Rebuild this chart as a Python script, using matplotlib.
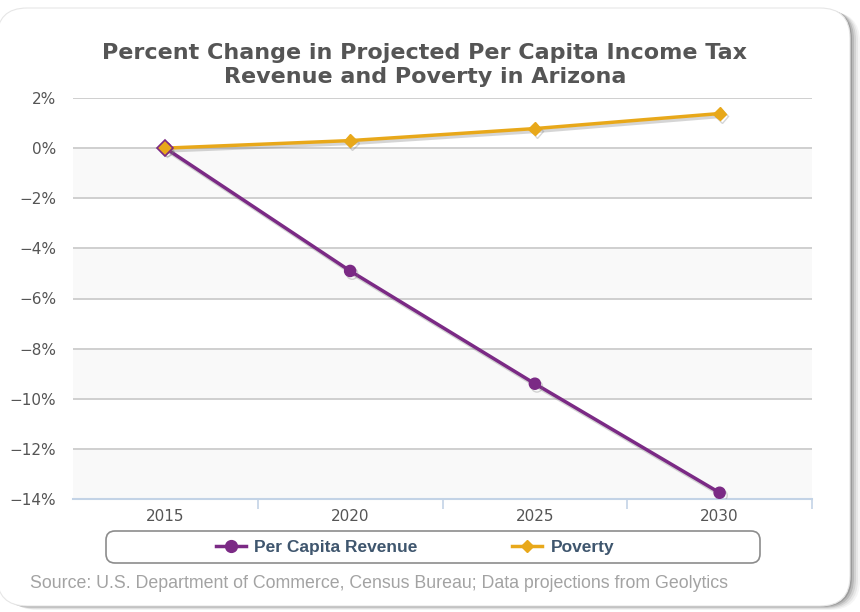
import matplotlib
matplotlib.use("Agg")
import matplotlib.pyplot as plt
from matplotlib.patches import FancyBboxPatch
from matplotlib.lines import Line2D
import matplotlib.patheffects as pe

years = ["2015", "2020", "2025", "2030"]
revenue_pct = [0.0, -4.9, -9.4, -13.75]
poverty_pct = [0.0, 0.3, 0.78, 1.38]
y_ticks = [2, 0, -2, -4, -6, -8, -10, -12, -14]

PURPLE = "#7b2a85"
ORANGE = "#e8a81a"
W, H = 860, 612

fig = plt.figure(figsize=(W / 100, H / 100), dpi=100)
fig.patch.set_facecolor("white")

# background layer in pixel coordinates for the card and its shadow
bg = fig.add_axes([0, 0, 1, 1], zorder=0)
bg.set_xlim(0, W)
bg.set_ylim(H, 0)
bg.axis("off")

card_x, card_y, card_w, card_h = -3, 8, 853, 598
for off, a in [(10, 0.05), (8, 0.08), (6, 0.12), (4, 0.18), (2, 0.25)]:
    bg.add_patch(FancyBboxPatch((card_x + off, card_y + off * 0.4), card_w, card_h,
                                boxstyle="round,pad=0,rounding_size=30",
                                fc="#444444", ec="none", alpha=a))
bg.add_patch(FancyBboxPatch((card_x, card_y), card_w, card_h,
                            boxstyle="round,pad=0,rounding_size=30",
                            fc="white", ec="#e6e6e6", lw=0.8))

# legend frame
bg.add_patch(FancyBboxPatch((106, 531), 654, 32,
                            boxstyle="round,pad=0,rounding_size=9",
                            fc="white", ec="#8c8c8c", lw=1.2))

ax = fig.add_axes([73 / W, 1 - 499 / H, (812 - 73) / W, (499 - 98) / H], zorder=2)
ax.set_facecolor("none")

x = list(range(len(years)))

for lo in (0, -4, -8, -12):
    ax.axhspan(lo - 2, lo, color="#f9f9f9", zorder=0, lw=0)
for t in y_ticks[:-1]:
    ax.axhline(t, color="#cccccc", lw=1.3, zorder=1)

shadow = [pe.SimpleLineShadow(offset=(1.5, -2.0), shadow_color="#777777", alpha=0.3),
          pe.Normal()]

ax.plot(x, revenue_pct, color=PURPLE, lw=2.5, marker="o", ms=8,
        mec=PURPLE, mfc=PURPLE, zorder=3, path_effects=shadow)
ax.plot(x, poverty_pct, color=ORANGE, lw=2.5, marker="D", ms=6.5,
        mec=ORANGE, mfc=ORANGE, zorder=4, path_effects=shadow)
# first shared point: diamond drawn over a purple outline
ax.plot([x[0]], [poverty_pct[0]], marker="D", ms=8.5, mfc=ORANGE, mec=PURPLE,
        mew=1.2, ls="none", zorder=5)

ax.set_xlim(-0.5, len(years) - 0.5)
ax.set_ylim(-14, 2)
ax.set_yticks(y_ticks)
ax.set_yticklabels([f"{t}%".replace("-", "\u2212") for t in y_ticks])
ax.set_xticks(x)
ax.set_xticklabels(years)
ax.set_xticks([i + 0.5 for i in x], minor=True)
ax.tick_params(axis="y", length=0, pad=12, labelsize=11, labelcolor="#555555")
ax.tick_params(axis="x", which="major", length=0, pad=7, labelsize=11, labelcolor="#555555")
ax.tick_params(axis="x", which="minor", length=7, width=1.2, color="#c3d3e6", direction="out")

for s in ("top", "right", "left"):
    ax.spines[s].set_visible(False)
ax.spines["bottom"].set_color("#c3d3e6")
ax.spines["bottom"].set_linewidth(1.5)

fig.text(425 / W, 1 - 65 / H,
         "Percent Change in Projected Per Capita Income Tax\nRevenue and Poverty in Arizona",
         ha="center", va="center", fontsize=16, fontweight="bold", color="#555555",
         family="DejaVu Sans", linespacing=1.2)

handles = [
    Line2D([], [], color=PURPLE, lw=2.5, marker="o", ms=8.5, mfc=PURPLE, mec=PURPLE),
    Line2D([], [], color=ORANGE, lw=2.5, marker="D", ms=6.5, mfc=ORANGE, mec=ORANGE),
]
leg = fig.legend(handles, ["Per Capita Revenue", "Poverty"], loc="center",
                 bbox_to_anchor=(415 / W, 1 - 547 / H), ncol=2, frameon=False,
                 handlelength=1.7, handletextpad=0.5, columnspacing=5.45,
                 prop={"family": "Liberation Sans", "weight": "bold", "size": 12.5})
for t in leg.get_texts():
    t.set_color("#3f566e")

fig.text(30 / W, 1 - 583 / H,
         "Source: U.S. Department of Commerce, Census Bureau; Data projections from Geolytics",
         ha="left", va="center", fontsize=12.75, color="#a3a3a3", family="Liberation Sans")

fig.savefig("out.png", dpi=100)
